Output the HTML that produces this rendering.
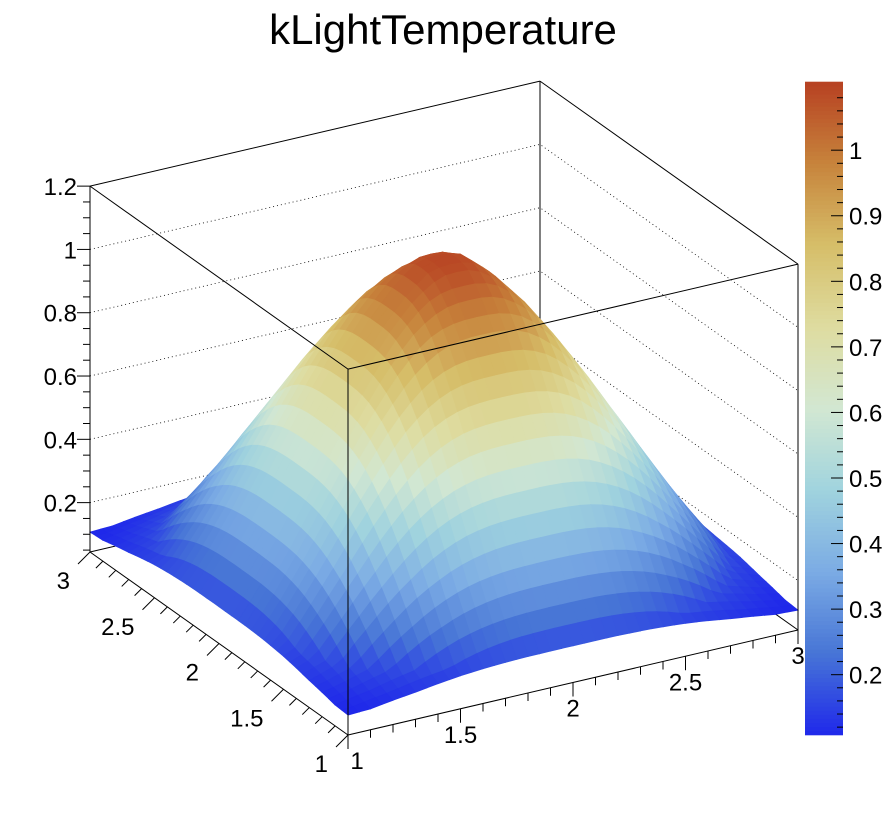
<!DOCTYPE html>
<html><head><meta charset="utf-8"><style>
body{margin:0;background:#fff;}
svg{display:block;font-family:"Liberation Sans",sans-serif;}
</style></head><body>
<svg id="c" width="888" height="816">
<text x="443" y="44" font-size="42" text-anchor="middle">kLightTemperature</text>
<g id="grid"></g><g id="surf"></g><g id="box"></g><g id="axes"></g><g id="cbar"></g>
</svg>
<script>
// data: height profile vs. (smooth-max) distance from centre (2,2), distance step 0.1
const radialDist=[0,0.1,0.2,0.3,0.4,0.5,0.6,0.7,0.8,0.9,1.0,1.1,1.2,1.3];
const radialHeight=[1.10,1.08,1.02,0.94,0.84,0.73,0.61,0.49,0.37,0.26,0.16,0.13,0.11,0.105];
const zTicks=[0.2,0.4,0.6,0.8,1,1.2];
const zTickLabels=["0.2","0.4","0.6","0.8","1","1.2"];
const xyTicks=[1,1.5,2,2.5,3];
const xyTickLabels=["1","1.5","2","2.5","3"];
const cbTicks=[0.2,0.3,0.4,0.5,0.6,0.7,0.8,0.9,1];
const cbTickLabels=["0.2","0.3","0.4","0.5","0.6","0.7","0.8","0.9","1"];
const cbRange=[0.108,1.104];

const NS="http://www.w3.org/2000/svg";
const F=[348,735],R=[798,630],L=[90,552];
const Z0=0.044,ZS=316.5;
function P(x,y,z){const u=(x-1)/2,v=(y-1)/2;
 return [F[0]+u*(R[0]-F[0])+v*(L[0]-F[0]), F[1]+u*(R[1]-F[1])+v*(L[1]-F[1])-(z-Z0)*ZS];}
const pr=[31,71,123,160,210,222,214,199,183],pg=[40,117,171,211,231,220,190,132,65],pb=[234,214,228,222,210,160,105,60,34];
function col(z){let t=(z-cbRange[0])/(cbRange[1]-cbRange[0]);t=Math.max(0,Math.min(1,t))*8;
 const i=Math.min(7,Math.floor(t)),f=t-i;
 const c=a=>Math.round(a[i]+(a[i+1]-a[i])*f);return `rgb(${c(pr)},${c(pg)},${c(pb)})`;}
function mk(tag,attrs,parent,name){const e=document.createElementNS(NS,tag);for(const k in attrs)e.setAttribute(k,attrs[k]);
 
 
 document.getElementById(parent).appendChild(e);return e;}
const pts=a=>a.map(p=>p[0].toFixed(1)+","+p[1].toFixed(1)).join(" ");
function height(x,y){const dx=Math.abs(x-2),dy=Math.abs(y-2);
 const d=Math.pow(Math.pow(dx,3)+Math.pow(dy,3),1/3);
 for(let k=0;k<radialDist.length-1;k++){if(d<=radialDist[k+1]){const f=(d-radialDist[k])/(radialDist[k+1]-radialDist[k]);return radialHeight[k]+(radialHeight[k+1]-radialHeight[k])*f;}}
 return radialHeight[radialHeight.length-1];}

const zTop=1.2;
zTicks.forEach((z,k)=>{if(z>=zTop)return;
 const a=P(1,3,z),b=P(3,3,z),c=P(3,1,z);
 mk('polyline',{points:pts([a,b,c]),fill:'none',stroke:'#000','stroke-width':0.8,'stroke-dasharray':'1,3'},'grid','z-gridline');
});
const corners={lb:P(1,3,Z0),bb:P(3,3,Z0),rb:P(3,1,Z0),fb:P(1,1,Z0),lt:P(1,3,zTop),bt:P(3,3,zTop),rt:P(3,1,zTop),ft:P(1,1,zTop)};
[['lb','bb'],['bb','rb'],['bb','bt']].forEach(e=>mk('line',{x1:corners[e[0]][0],y1:corners[e[0]][1],x2:corners[e[1]][0],y2:corners[e[1]][1],stroke:'#000','stroke-width':1},'grid','box-back-edge'));

const N=40;
const xv=i=>1+2*i/N;
const cells=[];
for(let i=0;i<N;i++)for(let j=0;j<N;j++)cells.push([i,j]);
cells.sort((a,b)=>(b[0]+b[1])-(a[0]+a[1]));
cells.forEach(([i,j])=>{
 const c4=[[xv(i),xv(j)],[xv(i+1),xv(j)],[xv(i+1),xv(j+1)],[xv(i),xv(j+1)]];
 const zs=c4.map(p=>height(p[0],p[1]));
 const q=c4.map((p,k)=>P(p[0],p[1],zs[k]));
 const c=col((zs[0]+zs[1]+zs[2]+zs[3])/4);
 mk('polygon',{points:pts(q),fill:c,stroke:c,'stroke-width':0.8},'surf','surface-cell');
});

[['lb','fb'],['fb','rb'],['lb','lt'],['rb','rt'],['fb','ft'],['lt','bt'],['bt','rt'],['rt','ft'],['ft','lt']].forEach(e=>mk('line',{x1:corners[e[0]][0],y1:corners[e[0]][1],x2:corners[e[1]][0],y2:corners[e[1]][1],stroke:'#000','stroke-width':1},'box','box-edge'));

for(let z=0.05;z<=1.2001;z+=0.05){const p=P(1,3,z);const major=zTicks.some(t=>Math.abs(t-z)<1e-6);
 mk('line',{x1:p[0],y1:p[1],x2:p[0]-(major?13:7),y2:p[1],stroke:'#000','stroke-width':1},'axes','z-tick');}
zTicks.forEach((z,k)=>{const p=P(1,3,z);const t=mk('text',{x:p[0]-13,y:p[1]+9,'font-size':24,'text-anchor':'end'},'axes','z-tick-label');t.textContent=zTickLabels[k];});
for(let v=1;v<=3.0001;v+=0.1){const p=P(v,1,Z0);const major=Math.abs(v*2-Math.round(v*2))<1e-6;
 mk('line',{x1:p[0],y1:p[1],x2:p[0],y2:p[1]+(major?14:8),stroke:'#000','stroke-width':1},'axes','x-tick');}
xyTicks.forEach((v,k)=>{const p=P(v,1,Z0);const t=mk('text',{x:p[0]+(k==0?9:0),y:p[1]+34,'font-size':24,'text-anchor':'middle'},'axes','x-tick-label');t.textContent=xyTickLabels[k];});
for(let v=1;v<=3.0001;v+=0.1){const p=P(1,v,Z0);const major=Math.abs(v*2-Math.round(v*2))<1e-6;
 mk('line',{x1:p[0],y1:p[1],x2:p[0]-(major?12:7),y2:p[1]+(major?12:7),stroke:'#000','stroke-width':1},'axes','y-tick');}
xyTicks.forEach((v,k)=>{const p=P(1,v,Z0);const t=mk('text',{x:p[0]-20,y:p[1]+37,'font-size':24,'text-anchor':'end'},'axes','y-tick-label');t.textContent=xyTickLabels[k];});

const cx=805,cw=38,cy0=735,cy1=82;
const cy=v=>cy0-(v-cbRange[0])/(cbRange[1]-cbRange[0])*(cy0-cy1);
for(let k=0;k<160;k++){const v0=cbRange[0]+(cbRange[1]-cbRange[0])*k/160,v1=cbRange[0]+(cbRange[1]-cbRange[0])*(k+1)/160;
 mk('rect',{x:cx,y:cy(v1)-0.3,width:cw,height:cy(v0)-cy(v1)+0.6,fill:col((v0+v1)/2)},'cbar','colorbar-step');}
for(let v=0.12;v<=1.1;v+=0.02){const y=cy(v);const major=cbTicks.some(t=>Math.abs(t-v)<1e-6);
 mk('line',{x1:cx+cw,y1:y,x2:cx+cw-(major?12:6),y2:y,stroke:'#000','stroke-width':1},'cbar','colorbar-tick');}
cbTicks.forEach((v,k)=>{const t=mk('text',{x:cx+cw+6,y:cy(v)+9,'font-size':24},'cbar','colorbar-tick-label');t.textContent=cbTickLabels[k];});
</script>
</body></html>
